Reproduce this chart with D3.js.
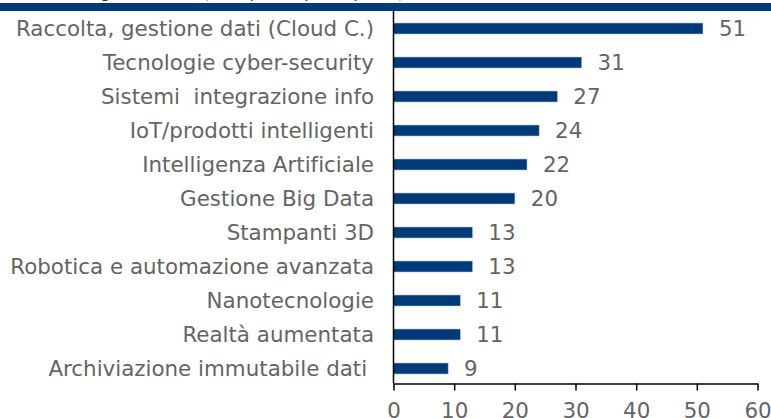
<!DOCTYPE html>
<html>
<head>
    <title>Tecnologie adottate</title>
    <script src="https://d3js.org/d3.v7.min.js"></script>
    <style>
        body {
            margin: 0;
            background-color: white;
        }
        svg text {
            font-family: "DejaVu Sans", sans-serif;
            font-variant-ligatures: none;
            white-space: pre;
        }
    </style>
</head>
<body>
    <div id="chart"></div>
    <script>
        // Data
        const categories = [
            "Raccolta, gestione dati (Cloud C.)",
            "Tecnologie cyber-security",
            "Sistemi  integrazione info",
            "IoT/prodotti intelligenti",
            "Intelligenza Artificiale",
            "Gestione Big Data",
            "Stampanti 3D",
            "Robotica e automazione avanzata",
            "Nanotecnologie",
            "Realtà aumentata",
            "Archiviazione immutabile dati "
        ];
        const values = [51, 31, 27, 24, 22, 20, 13, 13, 11, 11, 9];
        const xTicks = [0, 10, 20, 30, 40, 50, 60];
        const title = "Tecnologie adottate (% imprese, più risposte)";

        const width = 771, height = 418;
        const blue = "#003a78";
        const grey = "#646464";
        const fontSize = 21.4;

        const svg = d3.select('#chart')
            .append('svg')
            .attr('width', width)
            .attr('height', height);

        const x = d3.scaleLinear().domain([0, 60]).range([393.5, 757.5]);
        const y = d3.scaleBand().domain(categories).range([11.5, 385.5]).paddingInner(0.68).paddingOuter(0.34);

        // Title (mostly cut off at the top) and the dark band under it
        svg.append('text')
            .attr('x', 404)
            .attr('y', -2.5)
            .attr('text-anchor', 'end')
            .attr('font-size', 16)
            .attr('fill', blue)
            .text(title);

        svg.append('rect')
            .attr('x', 0)
            .attr('y', 3)
            .attr('width', width)
            .attr('height', 8)
            .attr('fill', blue);

        // Bars
        svg.append('g')
            .selectAll('rect')
            .data(values)
            .enter()
            .append('rect')
            .attr('x', x(0))
            .attr('y', (d, i) => y(categories[i]))
            .attr('width', d => x(d) - x(0))
            .attr('height', y.bandwidth())
            .attr('fill', blue)
            .attr('stroke', '#8aa4c4')
            .attr('stroke-width', 0.5);

        // Value labels
        svg.append('g')
            .selectAll('text')
            .data(values)
            .enter()
            .append('text')
            .attr('x', d => x(d) + 16)
            .attr('y', (d, i) => y(categories[i]) + y.bandwidth() / 2)
            .attr('dy', '0.36em')
            .attr('font-size', fontSize)
            .attr('fill', grey)
            .text(d => d);

        // Category labels
        svg.append('g')
            .selectAll('text')
            .data(categories)
            .enter()
            .append('text')
            .attr('x', 374)
            .attr('y', d => y(d) + y.bandwidth() / 2)
            .attr('dy', '0.36em')
            .attr('text-anchor', 'end')
            .attr('font-size', fontSize)
            .attr('fill', grey)
            .text(d => d);

        // Y axis line
        svg.append('line')
            .attr('x1', x(0)).attr('x2', x(0))
            .attr('y1', 11).attr('y2', 383.5)
            .attr('stroke', '#000')
            .attr('stroke-width', 1.5);

        // X axis
        const xAxis = svg.append('g')
            .attr('transform', 'translate(0,383.5)')
            .call(d3.axisBottom(x).tickValues(xTicks).tickSize(7).tickPadding(12).tickSizeOuter(0));
        xAxis.select('.domain').attr('stroke', '#000').attr('stroke-width', 1.5);
        xAxis.selectAll('.tick line').attr('stroke', '#000').attr('stroke-width', 1.5);
        xAxis.selectAll('.tick text')
            .attr('font-size', fontSize)
            .attr('font-family', '"DejaVu Sans", sans-serif')
            .attr('fill', grey);
    </script>
</body>
</html>
